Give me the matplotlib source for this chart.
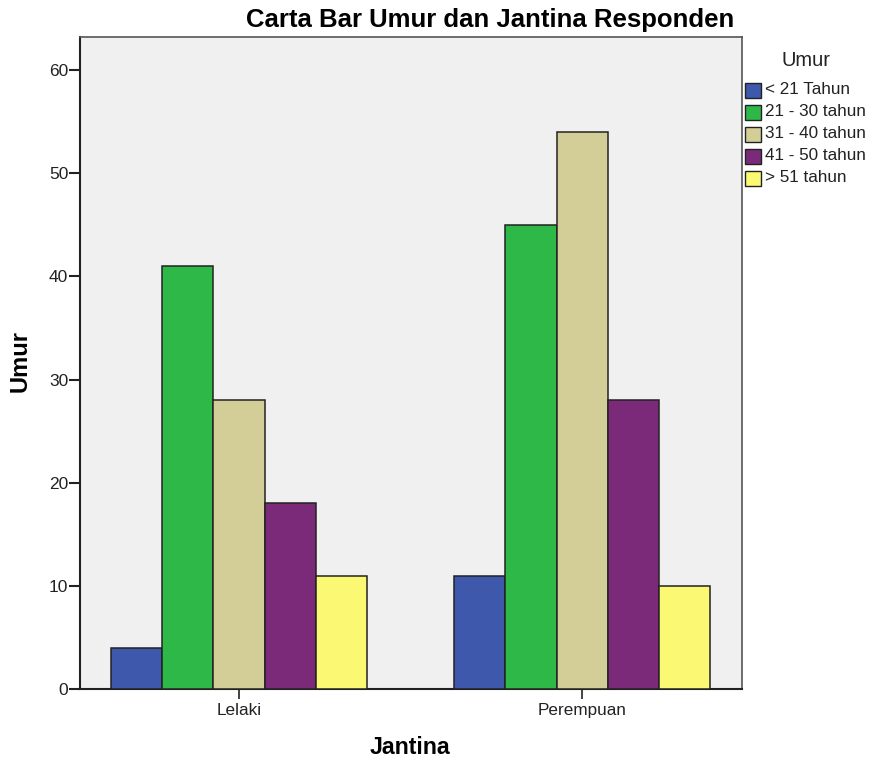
import matplotlib
matplotlib.use("Agg")
import matplotlib.pyplot as plt
import numpy as np
from matplotlib.patches import Rectangle

categories = ["Lelaki", "Perempuan"]
age_groups = ["< 21 Tahun", "21 - 30 tahun", "31 - 40 tahun", "41 - 50 tahun", "> 51 tahun"]
counts = {
    "< 21 Tahun": [4, 11],
    "21 - 30 tahun": [41, 45],
    "31 - 40 tahun": [28, 54],
    "41 - 50 tahun": [18, 28],
    "> 51 tahun": [11, 10],
}
colors = ["#3E58AC", "#2EB848", "#D3CE97", "#7B2A7A", "#FBF873"]

plt.rcParams["font.family"] = ["Liberation Sans", "DejaVu Sans"]

fig = plt.figure(figsize=(8.71, 7.62), dpi=100)
W, H = 871, 762
ax = fig.add_axes([80 / W, (H - 689) / H, 662 / W, 652 / H])
ax.set_facecolor("#F0F0F0")

x = np.arange(len(categories))
width = 0.149
for i, (grp, col) in enumerate(zip(age_groups, colors)):
    offs = (i - 2) * width
    ax.bar(x + offs, counts[grp], width, color=col, edgecolor="#222222",
           linewidth=1.1, label=grp, zorder=3)

ax.set_xlim(-0.4636, 1.466)
ax.set_ylim(0, 63.2)
ax.set_yticks(range(0, 61, 10))
ax.set_xticks(x)
ax.set_xticklabels(categories, fontsize=12.3, color="#222222")
ax.tick_params(axis="y", labelsize=12.5, length=8, width=1.5, pad=0.5,
               color="#222222", labelcolor="#222222")
ax.tick_params(axis="x", length=7, width=1.2, pad=3, color="#222222")
for s in ["left", "bottom"]:
    ax.spines[s].set_linewidth(1.5)
    ax.spines[s].set_color("#222222")
for s in ["top", "right"]:
    ax.spines[s].set_linewidth(1.2)
    ax.spines[s].set_color("#555555")

fig.text(490 / W, 1 - 20 / H, "Carta Bar Umur dan Jantina Responden",
         ha="center", va="center", fontsize=18.5, fontweight="bold")
fig.text(20 / W, 1 - 361 / H, "Umur", ha="center", va="center",
         rotation=90, fontsize=17, fontweight="bold")
fig.text(410 / W, 1 - 748 / H, "Jantina", ha="center", va="center",
         fontsize=16.7, fontweight="bold")

# legend drawn in figure pixel coordinates
fig.text(806 / W, 1 - 61 / H, "Umur", ha="center", va="center",
         fontsize=14.5, color="#222222")
row_y = [90, 112, 134, 156, 178]
for g, c, yc in zip(age_groups, colors, row_y):
    fig.patches.append(Rectangle((745 / W, 1 - (yc + 7.5) / H), 16 / W, 15 / H,
                                 facecolor=c, edgecolor="#222222", linewidth=1.0,
                                 transform=fig.transFigure, figure=fig))
    fig.text(765 / W, 1 - yc / H, g, ha="left", va="center",
             fontsize=12.3, color="#222222")

fig.savefig("out.png", dpi=100)
